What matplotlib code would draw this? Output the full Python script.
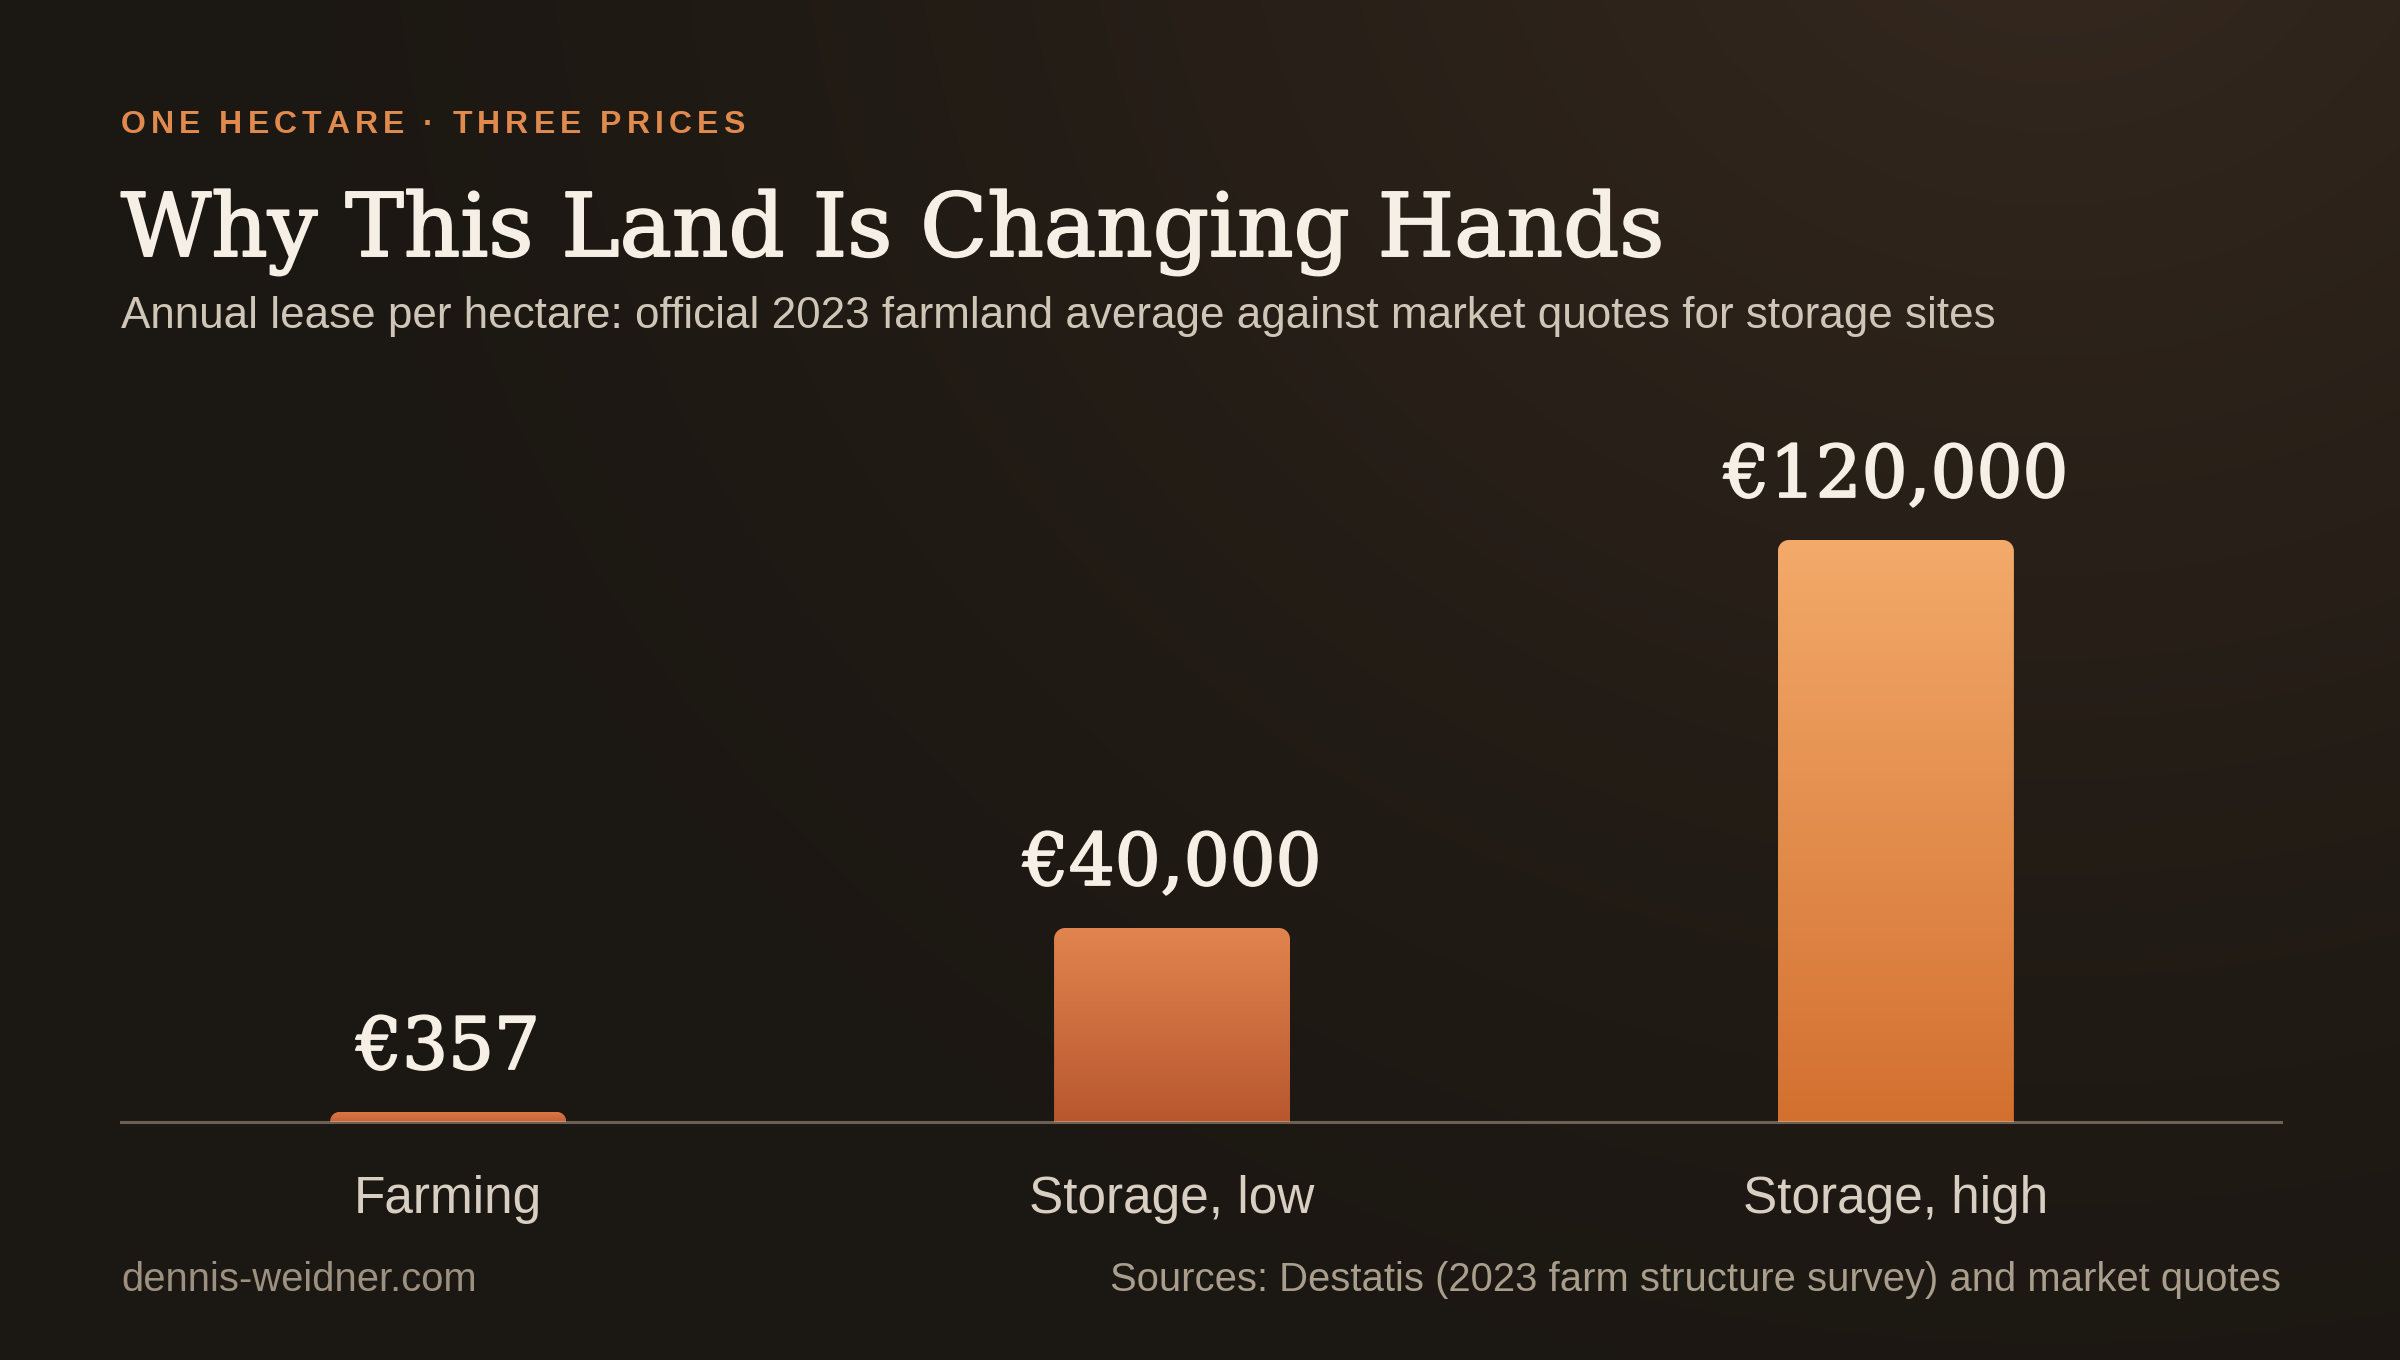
import matplotlib
matplotlib.use("Agg")
import matplotlib.pyplot as plt
import matplotlib.patheffects as pe
import numpy as np
from matplotlib.path import Path
from matplotlib.patches import PathPatch
from matplotlib.colors import LinearSegmentedColormap, to_rgb
from matplotlib.transforms import IdentityTransform

# data
categories = ["Farming", "Storage, low", "Storage, high"]
lease_eur = [357, 40000, 120000]
value_labels = ["€357", "€40,000", "€120,000"]

kicker = "ONE HECTARE · THREE PRICES"
title = "Why This Land Is Changing Hands"
subtitle = ("Annual lease per hectare: official 2023 farmland average "
            "against market quotes for storage sites")
footer_left = "dennis-weidner.com"
footer_right = "Sources: Destatis (2023 farm structure survey) and market quotes"

# per-bar gradient (bottom, top)
bar_grads = [("#C9623A", "#DA7A45"),
             ("#B8572F", "#E1844E"),
             ("#D37030", "#F3AA6A")]

W, H, DPI = 2400, 1360, 200
fig = plt.figure(figsize=(W / DPI, H / DPI), dpi=DPI)

# background: dark with warm glow top right
yy, xx = np.mgrid[0:H, 0:W]
d = np.hypot((xx - 2050) / 1.0, (yy + 150) / 0.9)
w = np.clip(1 - d / 1900, 0, 1) ** 1.4
base = np.array(to_rgb("#1B1712"))
glow = np.array(to_rgb("#36291F"))
bg = base + (glow - base) * w[..., None]
fig.figimage(bg, xo=0, yo=0, origin="upper", zorder=-10)


def fx(px):
    return px / W


def fy(py):
    return 1 - py / H


sans = "Liberation Sans"
serif = "DejaVu Serif"
ink = "#F5EFE6"
heavy = [pe.withStroke(linewidth=0.7, foreground=ink)]

# kicker with letter spacing
renderer = fig.canvas.get_renderer()
xpos = 121
for ch in kicker:
    t = fig.text(fx(xpos), fy(133), ch, fontsize=11.5, fontweight="bold",
                 family=sans, color="#E08A4E", va="baseline", ha="left")
    if ch == " ":
        cw = 11.5 * DPI / 72 * 0.278
    else:
        cw = t.get_window_extent(renderer).width
    xpos += cw + 5.0

fig.text(fx(121), fy(256), title, fontsize=31.6, family=serif,
         color=ink, va="baseline", ha="left", path_effects=heavy)
fig.text(fx(121), fy(328), subtitle, fontsize=15.85, family=sans,
         color="#CFC6B8", va="baseline", ha="left")

fig.text(fx(121), fy(1291), footer_left, fontsize=14.4, family=sans,
         color="#9C9080", va="baseline", ha="left")
fig.text(fx(2281), fy(1291), footer_right, fontsize=14.4, family=sans,
         color="#A99D8C", va="baseline", ha="right")

# chart axes
ax = fig.add_axes([fx(121), fy(1122), fx(2281) - fx(121), fy(540) - fy(1122)])
ax.set_facecolor("none")
for s in ax.spines.values():
    s.set_visible(False)
x = np.arange(len(categories))
ax.set_xlim(-0.452, 2.532)
ax.set_ylim(0, max(lease_eur))
ax.set_autoscale_on(False)
ax.set_yticks([])
ax.set_xticks(x, categories)
ax.tick_params(axis="x", length=0, pad=19, labelsize=18.5, labelcolor="#D8CFC2")
for lab in ax.get_xticklabels():
    lab.set_family(sans)

bar_w = 0.326
radius = 11
min_px = 10
for xi, v, lab, (c0, c1) in zip(x, lease_eur, value_labels, bar_grads):
    (px0, py0) = ax.transData.transform((xi - bar_w / 2, 0))
    (px1, py1) = ax.transData.transform((xi + bar_w / 2, v))
    py1 = max(py1, py0 + min_px)
    r = min(radius, (py1 - py0) * 0.9)
    k = 0.5523 * r
    verts = [(px0, py0), (px0, py1 - r),
             (px0, py1 - r + k), (px0 + r - k, py1), (px0 + r, py1),
             (px1 - r, py1),
             (px1 - r + k, py1), (px1, py1 - r + k), (px1, py1 - r),
             (px1, py0), (px0, py0)]
    codes = [Path.MOVETO, Path.LINETO,
             Path.CURVE4, Path.CURVE4, Path.CURVE4,
             Path.LINETO,
             Path.CURVE4, Path.CURVE4, Path.CURVE4,
             Path.LINETO, Path.CLOSEPOLY]
    patch = PathPatch(Path(verts, codes), transform=IdentityTransform(),
                      facecolor="none", edgecolor="none")
    ax.add_patch(patch)
    top_data = ax.transData.inverted().transform((px1, py1))[1]
    cmap = LinearSegmentedColormap.from_list("g", [c0, c1])
    grad = np.linspace(0, 1, 256).reshape(-1, 1)
    im = ax.imshow(grad, extent=[xi - bar_w / 2, xi + bar_w / 2, 0, top_data],
                   origin="lower", aspect="auto", cmap=cmap, zorder=2,
                   interpolation="bilinear")
    im.set_clip_path(patch)
    ax.annotate(lab, (xi, top_data), xytext=(0, 15.5), textcoords="offset points",
                ha="center", va="baseline", fontsize=26, family=serif,
                color=ink, annotation_clip=False, path_effects=heavy)

ax.axhline(0, color="#D8C8B0", alpha=0.42, lw=1.1, zorder=5, clip_on=False)

fig.savefig("out.png", dpi=DPI)
